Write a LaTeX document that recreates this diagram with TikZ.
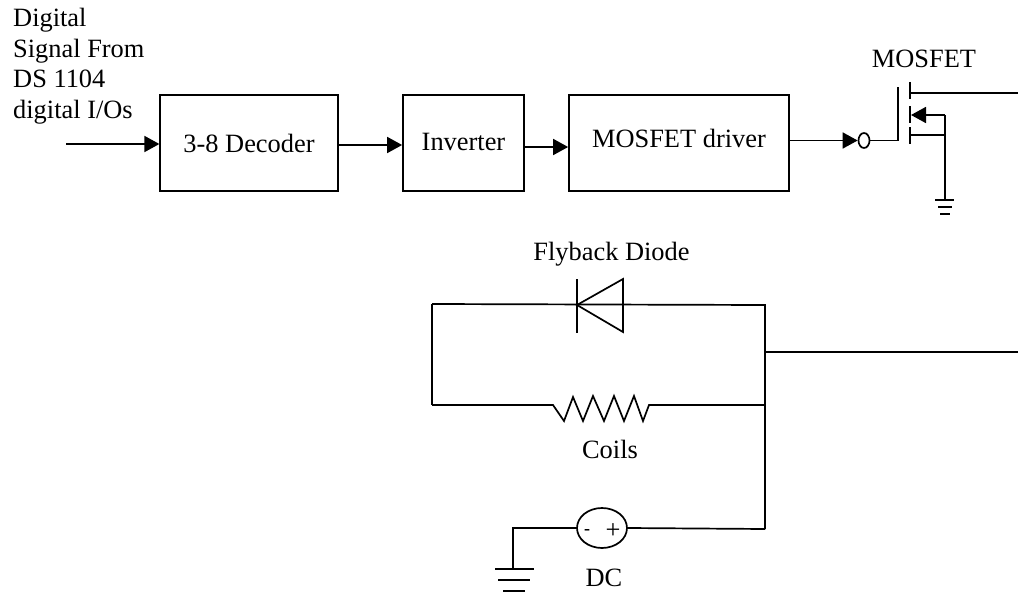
\documentclass[tikz,border=0pt]{standalone}
\usepackage{fontspec}
\setmainfont{Liberation Serif}
\usetikzlibrary{arrows.meta,shapes.geometric}
\tikzset{
  wire/.style={line width=1.7pt},
  sig/.style={wire,-{Triangle[length=15pt,width=16pt]}},
  lbl/.style={inner sep=0pt,font=\fontsize{26.4}{30.7}\selectfont},
  blockbox/.style={draw,wire,lbl,text height=18pt,minimum height=96pt}
}
\begin{document}
\begin{tikzpicture}[x=1pt,y=-1pt]
  \useasboundingbox (0,0) rectangle (1018,594);
  \node[lbl,align=left,anchor=north west] (src) at (13,8) {Digital\\Signal From\\DS 1104\\digital I/Os};
  \node[blockbox,text depth=0pt,minimum width=177.5pt] (dec) at (249,143) {3-8 Decoder};
  \node[blockbox,text depth=4pt,minimum width=121pt] (inv) at (463.5,143) {Inverter};
  \node[blockbox,text depth=10pt,minimum width=220pt] (drv) at (679,143) {MOSFET driver};
  \node[draw,wire,ellipse,inner sep=0pt,minimum width=11pt,minimum height=15pt] (bub) at (864,140.5) {};
  \coordinate (in) at (66,144);
  \draw[sig] (in) -- (in -| dec.west);
  \draw[sig] ([yshift=-2pt]dec.east) -- ([yshift=-2pt]inv.west);
  \draw[sig] ([yshift=-4pt]inv.east) -- ([yshift=-4pt]drv.west);
  \draw[sig] (drv.east |- bub.west) -- (bub.west);

  \node[lbl,anchor=base] (mos) at (924,67) {MOSFET};
  \coordinate (gtop) at (898,87);
  \coordinate (gbot) at (898,140.5);
  \coordinate (drain) at (910,93);
  \coordinate (out) at (1018,93);
  \coordinate (srcpin) at (911,115);
  \coordinate (bulk) at (945,115);
  \coordinate (body) at (910,135);
  \coordinate (junc) at (945,135);
  \coordinate (gnda) at (945,200);
  \draw[wire] (bub.east) -- (gbot) -- (gtop);
  \draw[wire] (910,82) -- (910,99);
  \draw[wire] (910,106) -- (910,123);
  \draw[wire] (910,127) -- (910,144);
  \draw[wire] (drain) -- (out);
  \draw[sig] (bulk) -- (srcpin);
  \draw[wire] (body) -- (junc);
  \draw[wire] (bulk) -- (gnda);
  \draw[wire] (935,200) -- (954,200);
  \draw[wire] (938,207) -- (952,207);
  \draw[wire] (940,214) -- (950,214);

  \node[lbl,anchor=base] (fly) at (611.5,260) {Flyback Diode};
  \coordinate (tl) at (432,304);
  \coordinate (tip) at (577,305);
  \coordinate (tr) at (765,305);
  \coordinate (bl) at (432,405);
  \coordinate (br) at (765,405);
  \coordinate (tap) at (765,352);
  \coordinate (tapend) at (1018,352);
  \coordinate (dcr) at (765,529);
  \draw[wire] (tl) -- (tr) -- (dcr);
  \draw[wire] (tl) -- (bl);
  \draw[wire] (tap) -- (tapend);
  \draw[wire] (577,279) -- (577,333);
  \draw[wire] (tip) -- (623,279) -- (623,332) -- cycle;
  \draw[wire] (bl) -- (553,405) -- (564,421) -- (573,397) -- (583,421) -- (593,396)
    -- (604,421) -- (614,396) -- (624,421) -- (634,396) -- (643,421) -- (649,405) -- (br);
  \node[lbl,anchor=base] (coil) at (610,458) {Coils};

  \node[draw,wire,ellipse,inner sep=0pt,minimum width=50pt,minimum height=40pt] (dc) at (602,528) {};
  \node[inner sep=0pt,font=\fontsize{18}{22}\selectfont\bfseries] (neg) at (587,532) {-};
  \node[lbl] (pos) at (613,531) {+};
  \node[lbl,anchor=base] (dclbl) at (604,586) {DC};
  \coordinate (gndb) at (513,569);
  \draw[wire] (dc.west) -- (513,528) -- (gndb);
  \draw[wire] (dc.east) -- (dcr);
  \draw[wire] (495,569) -- (534,569);
  \draw[wire] (498,580) -- (530,580);
  \draw[wire] (503,591) -- (525,591);
\end{tikzpicture}
\end{document}
